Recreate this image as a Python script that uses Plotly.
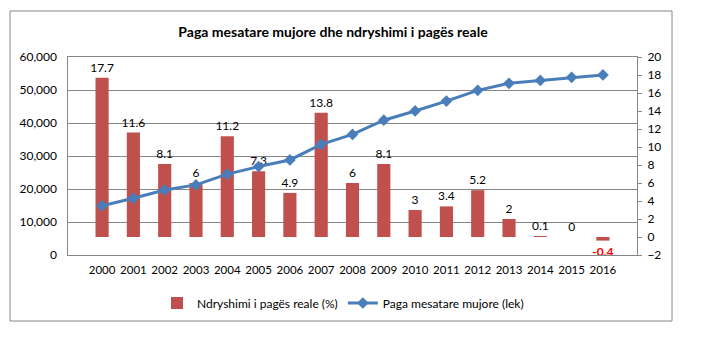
import plotly.graph_objects as go

years = [str(y) for y in range(2000, 2017)]
real_wage_change = [17.7, 11.6, 8.1, 6, 11.2, 7.3, 4.9, 13.8, 6, 8.1, 3, 3.4, 5.2, 2, 0.1, 0, -0.4]
avg_wage = [14950, 17200, 19700, 21250, 24500, 26800, 28800, 33550, 36550, 40850, 43650, 46650, 49900, 52030, 52900, 53830, 54580]

title_text = "Paga mesatare mujore dhe ndryshimi i pagës reale"
bar_name = "Ndryshimi i pagës reale (%)"
line_name = "Paga mesatare mujore (lek)"

FONT = "Lato, 'Open Sans', sans-serif"
GRID = "#868686"

labels = [("<b>%g</b>" % v) if v < 0 else ("%g" % v) for v in real_wage_change]
label_colors = ["#FF0000" if v < 0 else "#000000" for v in real_wage_change]

fig = go.Figure()
fig.add_trace(go.Bar(
    x=years, y=real_wage_change, name=bar_name, yaxis="y",
    marker=dict(color="#C0504D", line=dict(width=0)),
    text=labels, textposition="outside", cliponaxis=False, constraintext="none",
    textfont=dict(color=label_colors, size=12, family=FONT),
))
fig.add_trace(go.Scatter(
    x=years, y=avg_wage, name=line_name, yaxis="y2",
    mode="lines+markers",
    line=dict(color="#4A7EBB", width=3),
    marker=dict(symbol="diamond", size=9, color="#4A7EBB"),
))

fig.update_layout(
    width=721, height=345,
    margin=dict(l=68, r=84, t=57, b=90),
    paper_bgcolor="white", plot_bgcolor="white",
    font=dict(family=FONT, size=12, color="#000000"),
    showlegend=True,
    bargap=0.58,
    uniformtext=dict(mode=False) if False else None,
    title=dict(text="<b>" + title_text + "</b>", x=(333 - 68) / 569, xref="paper",
               xanchor="center", y=1 - 32 / 345, yanchor="middle",
               font=dict(size=14, family=FONT, color="#000000")),
    xaxis=dict(type="category", showline=True, mirror=True, linecolor=GRID, linewidth=1,
               showgrid=False, ticks="", ticklabelstandoff=4,
               tickfont=dict(size=11.5)),
    yaxis=dict(side="right", range=[-2, 20], dtick=2, tick0=0, showgrid=False,
               zeroline=False, showline=True, mirror=True, linecolor=GRID, linewidth=1,
               ticks="outside", ticklen=4, tickcolor=GRID, ticklabelstandoff=3,
               tickfont=dict(size=12)),
    yaxis2=dict(overlaying="y", side="left", range=[0, 60000], dtick=10000,
                tickformat=",", showgrid=True, gridcolor=GRID, gridwidth=1,
                zeroline=False, showline=False, ticks="", ticklabelstandoff=10,
                tickfont=dict(size=12)),
    legend=dict(orientation="h", x=(343 - 68) / 569, xanchor="center",
                y=(255 - 303) / 198, yanchor="middle", yref="paper",
                font=dict(size=12), bgcolor="rgba(0,0,0,0)", itemwidth=30,
                traceorder="normal"),
    shapes=[dict(type="rect", xref="paper", yref="paper",
                 x0=(10 - 68) / 569, x1=(672 - 68) / 569,
                 y0=(255 - 321) / 198, y1=(255 - 11) / 198,
                 line=dict(color=GRID, width=1), fillcolor="rgba(0,0,0,0)", layer="below")],
)

fig.write_html("out.html")
